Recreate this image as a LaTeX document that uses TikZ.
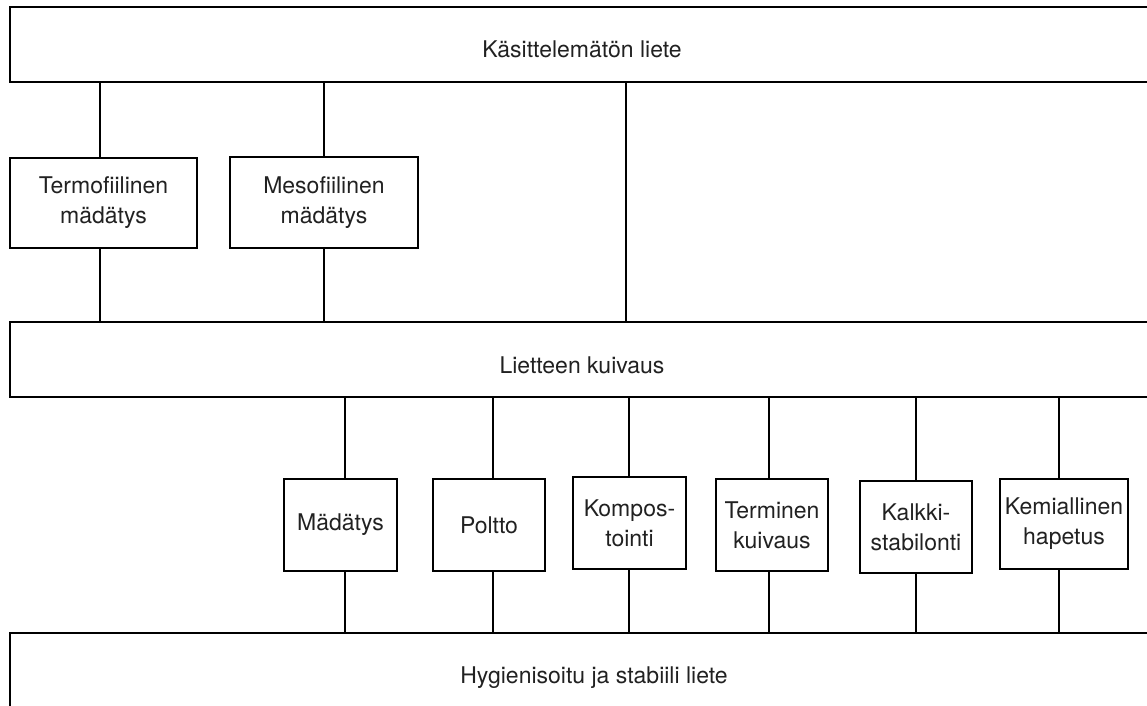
\documentclass[tikz,border=0pt]{standalone}
\usepackage{fontspec}
\setmainfont{TeX Gyre Heros}
\begin{document}
\begin{tikzpicture}[x=0.5pt,y=-0.5pt,
  every node/.style={inner sep=0pt,outer sep=0pt},
  bigbox/.style={draw=black,line width=1pt,minimum width=575pt,minimum height=37.5pt},
  stepbox/.style={draw=black,line width=0.9pt,align=center,text=black!87,
    font=\fontsize{11.5}{15}\selectfont},
  lbl/.style={text=black!87,font=\fontsize{11.5}{15}\selectfont,anchor=base},
  conn/.style={line width=0.9pt,draw=black}]
\useasboundingbox (0,0) rectangle (1147,706);
\clip (0,0) rectangle (1147,706);
% big boxes
\node[bigbox] (top) at (585,44.5) {};
\node[bigbox] (lk) at (585,359.5) {};
\node[bigbox,minimum height=45pt] (hyg) at (585,678) {};
\node[lbl] (ttop) at (582,58) {Käsittelemätön liete};
\node[lbl] (tlk) at (582,373) {Lietteen kuivaus};
\node[lbl] (thyg) at (594,683) {Hygienisoitu ja stabiili liete};
% upper boxes
\node[stepbox,minimum width=93.5pt,minimum height=45pt] (termo) at (103.5,203) {Termofiilinen\\mädätys};
\node[stepbox,minimum width=94pt,minimum height=45.5pt] (meso) at (324,202.5) {Mesofiilinen\\mädätys};
\coordinate (mid) at (626,82);
% lower boxes
\node[stepbox,minimum width=56.5pt,minimum height=46pt] (mad) at (340.5,525) {Mädätys};
\node[stepbox,minimum width=56pt,minimum height=46pt] (pol) at (489,525) {Poltto};
\node[stepbox,minimum width=56.5pt,minimum height=46pt] (komp) at (629.5,523) {Kompos-\\tointi};
\node[stepbox,minimum width=56pt,minimum height=46pt] (term) at (772,525) {Terminen\\kuivaus};
\node[stepbox,minimum width=56pt,minimum height=46pt] (kalk) at (916,527) {Kalkki-\\stabilonti};
\node[stepbox,minimum width=64pt,minimum height=45pt] (kem) at (1064,524) {Kemiallinen\\hapetus};
% connectors upper
\draw[conn] ([xshift=-1.75pt]termo.north |- top.south) -- ([xshift=-1.75pt]termo.north);
\draw[conn] ([xshift=-1.75pt]termo.south) -- ([xshift=-1.75pt]termo.south |- lk.north);
\draw[conn] (meso.north |- top.south) -- (meso.north);
\draw[conn] (meso.south) -- (meso.south |- lk.north);
\draw[conn] (mid) -- (mid |- lk.north);
% connectors lower
\foreach \b/\d in {mad/2.25pt,pol/2pt,komp/-0.25pt,term/-1.5pt,kalk/0pt,kem/-2.5pt}{
  \draw[conn] ([xshift=\d]\b.north |- lk.south) -- ([xshift=\d]\b.north);
  \draw[conn] ([xshift=\d]\b.south) -- ([xshift=\d]\b.south |- hyg.north);
}
\end{tikzpicture}
\end{document}
